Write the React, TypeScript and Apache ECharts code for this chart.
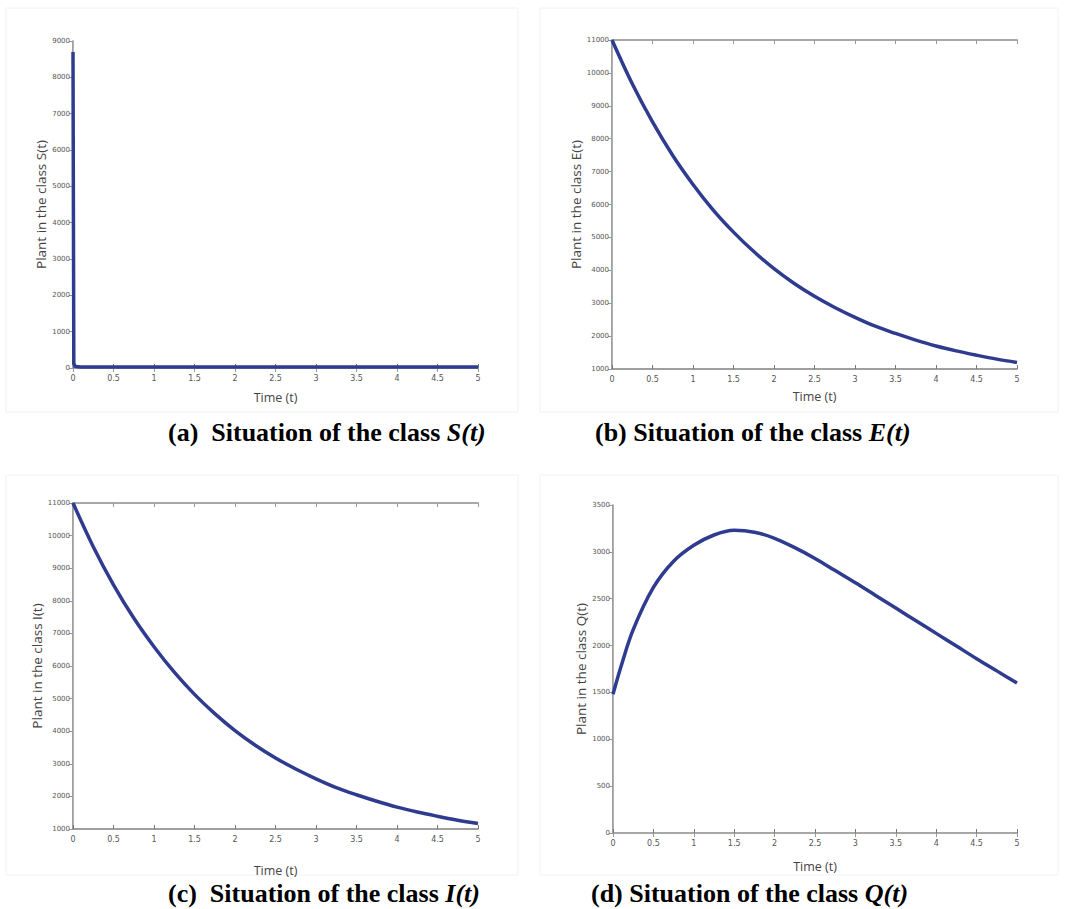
import React, { useEffect, useRef } from "react";
import * as echarts from "echarts";

// Time ticks
const timeTicks = [0, 0.5, 1, 1.5, 2, 2.5, 3, 3.5, 4, 4.5, 5];

// S(t): drops almost instantly from ~8700 to ~0
const sTime = [0, 0.01, 0.03, 0.1, 0.5, 1, 1.5, 2, 2.5, 3, 3.5, 4, 4.5, 5];
const sValues = [8700, 120, 40, 25, 25, 25, 25, 25, 25, 25, 25, 25, 25, 25];

// E(t) and I(t)
const curveTime = [0, 0.25, 0.5, 0.75, 1, 1.25, 1.5, 1.75, 2, 2.25, 2.5, 2.75, 3, 3.25, 3.5, 3.75, 4, 4.25, 4.5, 4.75, 5];
const eValues = [11000, 9670, 8510, 7490, 6610, 5830, 5160, 4570, 4050, 3600, 3210, 2870, 2570, 2300, 2080, 1880, 1700, 1550, 1420, 1300, 1200];
const iValues = [11000, 9660, 8490, 7470, 6590, 5810, 5130, 4540, 4020, 3570, 3180, 2840, 2540, 2270, 2050, 1850, 1670, 1520, 1390, 1270, 1170];

// Q(t)
const qTime = [0, 0.1, 0.25, 0.5, 0.75, 1, 1.25, 1.5, 1.75, 2, 2.25, 2.5, 2.75, 3, 3.25, 3.5, 3.75, 4, 4.25, 4.5, 4.75, 5];
const qValues = [1480, 1780, 2170, 2620, 2900, 3070, 3180, 3230, 3210, 3145, 3045, 2930, 2800, 2670, 2535, 2400, 2265, 2130, 1995, 1860, 1730, 1600];

const yLabels = ["Plant in the class S(t)", "Plant in the class E(t)", "Plant in the class I(t)", "Plant in the class Q(t)"];
const xLabel = "Time (t)";
const captions = [
  { tag: "(a)  Situation of the class ", v: "S(t)" },
  { tag: "(b) Situation of the class ", v: "E(t)" },
  { tag: "(c)  Situation of the class ", v: "I(t)" },
  { tag: "(d) Situation of the class ", v: "Q(t)" },
];

const yRanges = [
  { min: 0, max: 9000, interval: 1000 },
  { min: 1000, max: 11000, interval: 1000 },
  { min: 1000, max: 11000, interval: 1000 },
  { min: 0, max: 3500, interval: 500 },
];

const grids = [
  { left: 73, top: 41, width: 405, height: 327 },
  { left: 612, top: 40, width: 405, height: 329 },
  { left: 73, top: 503, width: 405, height: 326 },
  { left: 613, top: 505, width: 404, height: 328 },
];
const xNameGaps = [23, 21, 35, 27];
const yNameGaps = [21, 23, 19, 24];
const captionPos = [
  { x: 168, y: 432 },
  { x: 595, y: 432 },
  { x: 168, y: 893 },
  { x: 591, y: 893 },
];
const framePos = [
  { x: 6, y: 8, w: 512, h: 404 },
  { x: 540, y: 8, w: 518, h: 404 },
  { x: 6, y: 475, w: 512, h: 400 },
  { x: 540, y: 475, w: 518, h: 400 },
];

const LINE = "#2f3b8f";

export default function App() {
  const ref = useRef<HTMLDivElement>(null);
  useEffect(() => {
    if (!ref.current) return;
    const chart = echarts.init(ref.current, null, { renderer: "svg" });
    const pairs = (xs: number[], ys: number[]) => xs.map((x, i) => [x, ys[i]]);
    const seriesData = [
      pairs(sTime, sValues),
      pairs(curveTime, eValues),
      pairs(curveTime, iValues),
      pairs(qTime, qValues),
    ];
    const xAxes: any[] = [];
    const yAxes: any[] = [];
    grids.forEach((g, i) => {
      xAxes.push({
        type: "value",
        gridIndex: i,
        min: timeTicks[0],
        max: timeTicks[timeTicks.length - 1],
        interval: 0.5,
        name: xLabel,
        nameLocation: "middle",
        nameGap: xNameGaps[i],
        nameTextStyle: { fontFamily: "Open Sans", fontSize: 12.5, color: "#444" },
        axisLine: { show: true, lineStyle: { color: "#808080", width: 1.5 } },
        axisTick: { show: true, inside: true, length: 4, lineStyle: { color: "#777" } },
        axisLabel: { fontSize: 8, color: "#555", margin: 6, fontFamily: "DejaVu Sans" },
        splitLine: { show: false },
      });
      xAxes.push({
        type: "value",
        gridIndex: i,
        position: "top",
        min: 0,
        max: 5,
        interval: 0.5,
        axisLine: { show: true, lineStyle: { color: "#a8a8a8", width: 2 } },
        axisTick: { show: true, inside: true, length: 4, lineStyle: { color: "#999" } },
        axisLabel: { show: false },
        splitLine: { show: false },
      });
      yAxes.push({
        type: "value",
        gridIndex: i,
        ...yRanges[i],
        name: yLabels[i],
        nameLocation: "middle",
        nameGap: yNameGaps[i],
        nameRotate: 90,
        nameTextStyle: { fontFamily: "Open Sans", fontSize: 13.5, color: "#444" },
        axisLine: { show: true, lineStyle: { color: "#808080", width: 1.5 } },
        axisTick: { show: true, inside: false, length: 3, lineStyle: { color: "#777" } },
        axisLabel: {
          fontSize: 7,
          color: "#555",
          margin: 3,
          fontFamily: "DejaVu Sans",
          formatter: (v: number) => String(v),
        },
        splitLine: { show: false },
      });
      yAxes.push({
        type: "value",
        gridIndex: i,
        position: "right",
        ...yRanges[i],
        axisLine: { show: true, lineStyle: { color: "#b0b0b0", width: 1 } },
        axisTick: { show: true, inside: true, length: 4, lineStyle: { color: "#999" } },
        axisLabel: { show: false },
        splitLine: { show: false },
      });
    });

    const graphics: any[] = [];
    framePos.forEach((f) => {
      graphics.push({
        type: "rect",
        shape: { x: f.x, y: f.y, width: f.w, height: f.h },
        style: { fill: "none", stroke: "#f2f2f2", lineWidth: 1 },
        z: -1,
      });
    });
    captions.forEach((c, i) => {
      graphics.push({
        type: "text",
        x: captionPos[i].x,
        y: captionPos[i].y,
        style: {
          text: `{b|${c.tag}}{i|${c.v}}`,
          verticalAlign: "middle",
          rich: {
            b: { fontFamily: "Liberation Serif", fontWeight: "bold", fontSize: 26, fill: "#000" },
            i: { fontFamily: "Liberation Serif", fontWeight: "bold", fontStyle: "italic", fontSize: 26, fill: "#000" },
          },
        },
      });
    });

    chart.setOption({
      animation: false,
      backgroundColor: "#ffffff",
      grid: grids.map((g) => ({ ...g, containLabel: false })),
      xAxis: xAxes,
      yAxis: yAxes,
      graphic: graphics,
      series: seriesData.map((d, i) => ({
        type: "line",
        xAxisIndex: i * 2,
        yAxisIndex: i * 2,
        data: d,
        smooth: i === 0 ? false : 0.35,
        showSymbol: false,
        lineStyle: { color: LINE, width: 3.5 },
        z: 5,
      })),
    });
    return () => chart.dispose();
  }, []);
  return (
    <div
      ref={ref}
      style={{ position: "absolute", left: 0, top: 0, width: 1067, height: 909 }}
    />
  );
}
